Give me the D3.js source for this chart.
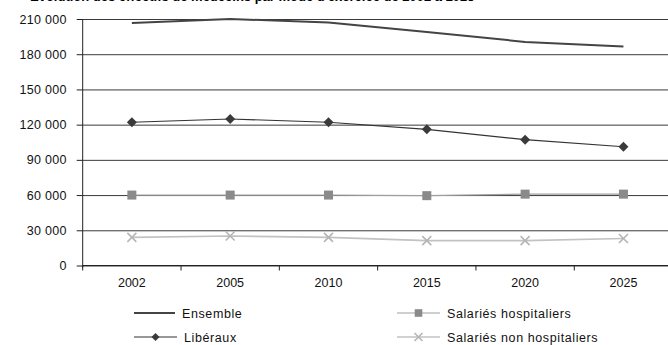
<!DOCTYPE html>
<html>
<head>
<meta charset="utf-8">
<script src="https://cdn.jsdelivr.net/npm/d3@7"></script>
<style>
  html, body { margin: 0; padding: 0; background: #fff; }
  svg { display: block; font-family: "Liberation Sans", Arial, sans-serif; }
</style>
</head>
<body>
<svg id="chart" width="668" height="345"></svg>
<script>
// Effectifs de médecins par mode d'exercice, 2002-2025
const years = ["2002", "2005", "2010", "2015", "2020", "2025"];
const ensemble = [206500, 210000, 207000, 199000, 190500, 186500];
const liberaux = [122000, 124800, 122000, 116000, 107200, 101200];
const salHosp = [60000, 60000, 60000, 59500, 60800, 60800];
const salNonHosp = [24000, 25100, 24000, 21200, 21200, 23000];
const yTicks = [0, 30000, 60000, 90000, 120000, 150000, 180000, 210000];
const seriesNames = ["Ensemble", "Libéraux", "Salariés hospitaliers", "Salariés non hospitaliers"];
const titleText = "Évolution des effectifs de médecins par mode d'exercice de 2002 à 2025";

const svg = d3.select("#chart");
const plotLeft = 82.7, plotRight = 672.6, plotTop = 19, plotBottom = 265.5;

const x = d3.scaleBand().domain(years).range([plotLeft, plotRight]).padding(0);
const y = d3.scaleLinear().domain([0, 210000]).range([plotBottom, plotTop]);
const cx = d => x(d) + x.bandwidth() / 2;

// Title (sits at the very top edge)
svg.append("text")
  .attr("x", 30).attr("y", 1)
  .attr("font-size", 13).attr("font-weight", "bold")
  .attr("fill", "#000")
  .text(titleText);

// Horizontal gridlines
svg.append("g")
  .attr("transform", `translate(${plotLeft},0)`)
  .call(d3.axisLeft(y).tickValues(yTicks).tickSize(-(plotRight - plotLeft)).tickFormat(""))
  .call(g => g.select(".domain").remove())
  .call(g => g.selectAll("line").attr("stroke", "#3a3a3a").attr("stroke-width", 1));

// Y axis with labels
const fmt = v => d3.format(",")(v).replace(/,/g, " ");
svg.append("g")
  .attr("transform", `translate(${plotLeft},0)`)
  .call(d3.axisLeft(y).tickValues(yTicks).tickSize(6).tickPadding(10).tickFormat(fmt))
  .call(g => g.select(".domain").attr("d", `M0,${plotTop}V${plotBottom + 2}`).attr("stroke", "#222"))
  .call(g => g.selectAll("line").attr("stroke", "#222"))
  .call(g => g.selectAll("text").attr("font-size", 12.5).attr("letter-spacing", 0.3)
    .attr("fill", "#111").attr("font-family", "Liberation Sans, Arial, sans-serif"));

// X axis: labels centred in categories, tick marks at category boundaries
const xAxis = svg.append("g").attr("transform", `translate(0,${plotBottom})`);
xAxis.call(d3.axisBottom(x).tickSize(0).tickPadding(13))
  .call(g => g.select(".domain").attr("d", `M${plotLeft},0H${plotRight}`).attr("stroke", "#222"))
  .call(g => g.selectAll("text").attr("font-size", 12.5).attr("fill", "#111")
    .attr("font-family", "Liberation Sans, Arial, sans-serif"));
const bounds = years.map(d => x(d)).concat([x(years[years.length - 1]) + x.bandwidth()]);
xAxis.selectAll("line.bound")
  .data(bounds)
  .join("line")
  .attr("class", "bound")
  .attr("x1", d => d).attr("x2", d => d)
  .attr("y1", 0).attr("y2", 5)
  .attr("stroke", "#222");

const line = d3.line().x((d, i) => cx(years[i])).y(d => y(d));

function drawSeries(values, stroke, width) {
  svg.append("path").datum(values)
    .attr("d", line).attr("fill", "none")
    .attr("stroke", stroke).attr("stroke-width", width);
}

// Marker helpers
function diamond(g, px, py, s, fill) {
  g.append("path")
    .attr("d", `M${px},${py - s}L${px + s},${py}L${px},${py + s}L${px - s},${py}Z`)
    .attr("fill", fill);
}
function square(g, px, py, s, fill) {
  g.append("rect").attr("x", px - s).attr("y", py - s)
    .attr("width", 2 * s).attr("height", 2 * s).attr("fill", fill);
}
function cross(g, px, py, s, stroke) {
  g.append("path")
    .attr("d", `M${px - s},${py - s}L${px + s},${py + s}M${px - s},${py + s}L${px + s},${py - s}`)
    .attr("stroke", stroke).attr("stroke-width", 1.6).attr("fill", "none");
}

const cEns = "#444", cLib = "#3a3a3a", cHosp = "#8a8a8a", cNon = "#b5b5b5";

drawSeries(salNonHosp, "#c2c2c2", 1.6);
drawSeries(salHosp, "#a0a0a0", 1.2);
drawSeries(liberaux, "#333", 1.1);
drawSeries(ensemble, cEns, 2);

const marks = svg.append("g");
salNonHosp.forEach((v, i) => cross(marks, cx(years[i]), y(v), 4.5, cNon));
salHosp.forEach((v, i) => square(marks, cx(years[i]), y(v), 4.5, cHosp));
liberaux.forEach((v, i) => diamond(marks, cx(years[i]), y(v), 5, cLib));

// Legend
const legend = svg.append("g").attr("font-size", 12.5).attr("letter-spacing", 0.6).attr("fill", "#111");
const legendItems = [
  { name: seriesNames[0], lx: 134, ly: 313, kind: "plain" },
  { name: seriesNames[1], lx: 134, ly: 337, kind: "diamond" },
  { name: seriesNames[2], lx: 397, ly: 313, kind: "square" },
  { name: seriesNames[3], lx: 397, ly: 337, kind: "cross" }
];
legendItems.forEach(it => {
  const len = it.kind === "plain" ? 41 : 43;
  const stroke = it.kind === "plain" ? cEns : it.kind === "diamond" ? "#333" : it.kind === "square" ? "#a0a0a0" : "#c2c2c2";
  const sw = it.kind === "plain" ? 2 : it.kind === "cross" ? 1.6 : 1.1;
  legend.append("line").attr("x1", it.lx).attr("x2", it.lx + len)
    .attr("y1", it.ly).attr("y2", it.ly).attr("stroke", stroke).attr("stroke-width", sw);
  const mx = it.lx + len / 2;
  if (it.kind === "diamond") diamond(legend, mx, it.ly, 4, cLib);
  if (it.kind === "square") square(legend, mx, it.ly, 3.8, cHosp);
  if (it.kind === "cross") cross(legend, mx, it.ly, 4, cNon);
  legend.append("text").attr("x", it.lx + len + 7).attr("y", it.ly + 5).text(it.name);
});
</script>
</body>
</html>
